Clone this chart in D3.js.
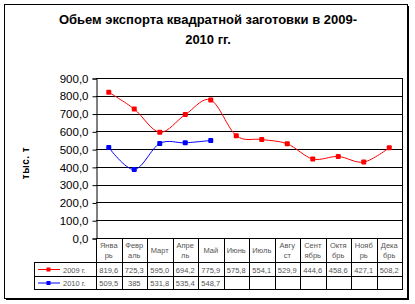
<!DOCTYPE html>
<html>
<head>
<meta charset="utf-8">
<script src="https://cdn.jsdelivr.net/npm/d3@7"></script>
<style>
  body { margin: 0; background: #fff; }
  text { font-family: "Liberation Sans", Arial, sans-serif; }
</style>
</head>
<body>
<div id="chart"></div>
<script>
// data
const months = [["Янва","рь"],["Февр","аль"],["Март"],["Апре","ль"],["Май"],["Июнь"],
  ["Июль"],["Авгу","ст"],["Сент","ябрь"],["Октя","брь"],["Нояб","рь"],["Дека","брь"]];
const values2009 = [819.6, 725.3, 595.0, 694.2, 775.9, 575.8, 554.1, 529.9, 444.6, 458.6, 427.1, 508.2];
const values2010 = [509.5, 385, 531.8, 535.4, 548.7];
const table2009 = ["819,6","725,3","595,0","694,2","775,9","575,8","554,1","529,9","444,6","458,6","427,1","508,2"];
const table2010 = ["509,5","385","531,8","535,4","548,7"];
const yTicks = [0, 100, 200, 300, 400, 500, 600, 700, 800, 900];
const series = [
  {name: "2009 г.", values: values2009, table: table2009, color: "#ff0000"},
  {name: "2010 г.", values: values2010, table: table2010, color: "#0000ff"}
];

const width = 415, height = 304;
const plot = {left: 96, right: 402, top: 78, bottom: 238};
const rowH = [24, 14, 13]; // header row, 2009 row, 2010 row
const tableLeft = 34;

const svg = d3.select("#chart").append("svg")
  .attr("width", width).attr("height", height);

// chart frame with shadow
svg.append("rect").attr("x", 6).attr("y", 6).attr("width", 403).attr("height", 294).attr("fill", "#000");
svg.append("rect").attr("x", 4.5).attr("y", 4.5).attr("width", 403).attr("height", 294)
  .attr("fill", "#fff").attr("stroke", "#000");

// title
svg.append("text").attr("x", 208).attr("y", 24).attr("text-anchor", "middle")
  .attr("font-size", 13).attr("font-weight", "bold")
  .text("Обьем экспорта квадратной заготовки в 2009-");
svg.append("text").attr("x", 208).attr("y", 44).attr("text-anchor", "middle")
  .attr("font-size", 13).attr("font-weight", "bold")
  .text("2010 гг.");

const x = d3.scaleBand().domain(d3.range(months.length))
  .range([plot.left, plot.right]);
const y = d3.scaleLinear().domain([0, 900]).range([plot.bottom, plot.top]);

// gridlines
svg.append("g").selectAll("line").data(yTicks.slice(1)).join("line")
  .attr("x1", plot.left).attr("x2", plot.right)
  .attr("y1", d => Math.round(y(d)) + 0.5).attr("y2", d => Math.round(y(d)) + 0.5)
  .attr("stroke", "#000");
svg.append("line").attr("x1", plot.right + 0.5).attr("x2", plot.right + 0.5)
  .attr("y1", plot.top).attr("y2", plot.bottom).attr("stroke", "#000");

// y axis
const fmt = d3.formatLocale({decimal: ",", thousands: " ", grouping: [3], currency: ["", ""]}).format(".1f");
const yAxis = d3.axisLeft(y).tickValues(yTicks).tickSize(4).tickPadding(4).tickFormat(fmt);
svg.append("g")
  .attr("transform", `translate(${plot.left + 0.5},0.5)`)
  .call(yAxis)
  .call(g => g.selectAll("text").attr("font-size", 11.5).attr("fill", "#000")
    .attr("font-family", "Liberation Sans, Arial, sans-serif"))
  .call(g => g.selectAll("line, path").attr("stroke", "#000"));

// y title
svg.append("text")
  .attr("transform", "translate(29,163) rotate(-90)")
  .attr("text-anchor", "middle").attr("font-size", 10).attr("font-weight", "bold")
  .attr("letter-spacing", 0.5)
  .text("тыс. т");

// lines and markers
const line = d3.line()
  .x((d, i) => x(i) + x.bandwidth() / 2)
  .y(d => y(d))
  .curve(d3.curveCardinal.tension(0));

series.forEach(s => {
  svg.append("path").attr("d", line(s.values))
    .attr("fill", "none").attr("stroke", s.color).attr("stroke-width", 1);
  svg.append("g").selectAll("rect").data(s.values).join("rect")
    .attr("x", (d, i) => x(i) + x.bandwidth() / 2 - 2.5)
    .attr("y", d => y(d) - 2.5)
    .attr("width", 5).attr("height", 5).attr("rx", 1)
    .attr("fill", s.color);
});

// data table
const rowY = [plot.bottom, plot.bottom + rowH[0], plot.bottom + rowH[0] + rowH[1],
  plot.bottom + rowH[0] + rowH[1] + rowH[2]];
const tbl = svg.append("g").attr("stroke", "#000").attr("stroke-width", 1);
// x axis line
tbl.append("line").attr("x1", plot.left).attr("x2", plot.right + 1)
  .attr("y1", plot.bottom + 0.5).attr("y2", plot.bottom + 0.5);
// row lines
[rowY[1], rowY[2], rowY[3]].forEach(yy => {
  tbl.append("line").attr("x1", tableLeft).attr("x2", plot.right + 1)
    .attr("y1", yy + 0.5).attr("y2", yy + 0.5);
});
// column lines
d3.range(months.length + 1).forEach(i => {
  const xx = Math.round(i < months.length ? x(i) : plot.right) + 0.5;
  tbl.append("line").attr("x1", xx).attr("x2", xx)
    .attr("y1", plot.bottom).attr("y2", rowY[3] + 1);
});
tbl.append("line").attr("x1", tableLeft + 0.5).attr("x2", tableLeft + 0.5)
  .attr("y1", rowY[1]).attr("y2", rowY[3] + 1);

// header labels
months.forEach((m, i) => {
  const cx = x(i) + x.bandwidth() / 2;
  const t = svg.append("text").attr("text-anchor", "middle")
    .attr("font-size", 7.5).attr("fill", "#555");
  if (m.length === 1) {
    t.attr("x", cx).attr("y", plot.bottom + 15).text(m[0]);
  } else {
    t.append("tspan").attr("x", cx).attr("y", plot.bottom + 10).text(m[0]);
    t.append("tspan").attr("x", cx).attr("y", plot.bottom + 20).text(m[1]);
  }
});

// rows
series.forEach((s, r) => {
  const ty = rowY[r + 1] + rowH[r + 1] / 2 + 3.5;
  svg.append("g").selectAll("text").data(s.table).join("text")
    .attr("x", (d, i) => x(i) + x.bandwidth() / 2)
    .attr("y", ty)
    .attr("text-anchor", "middle").attr("font-size", 7.5).attr("fill", "#555")
    .text(d => d);
  // legend key
  const ly = rowY[r + 1] + rowH[r + 1] / 2 + 0.5;
  svg.append("line").attr("x1", 38).attr("x2", 60).attr("y1", ly).attr("y2", ly)
    .attr("stroke", s.color);
  svg.append("rect").attr("x", 46.5).attr("y", ly - 2).attr("width", 4).attr("height", 4)
    .attr("fill", s.color);
  svg.append("text").attr("x", 63).attr("y", ty).attr("font-size", 7.5).attr("fill", "#555")
    .text(s.name);
});
</script>
</body>
</html>
